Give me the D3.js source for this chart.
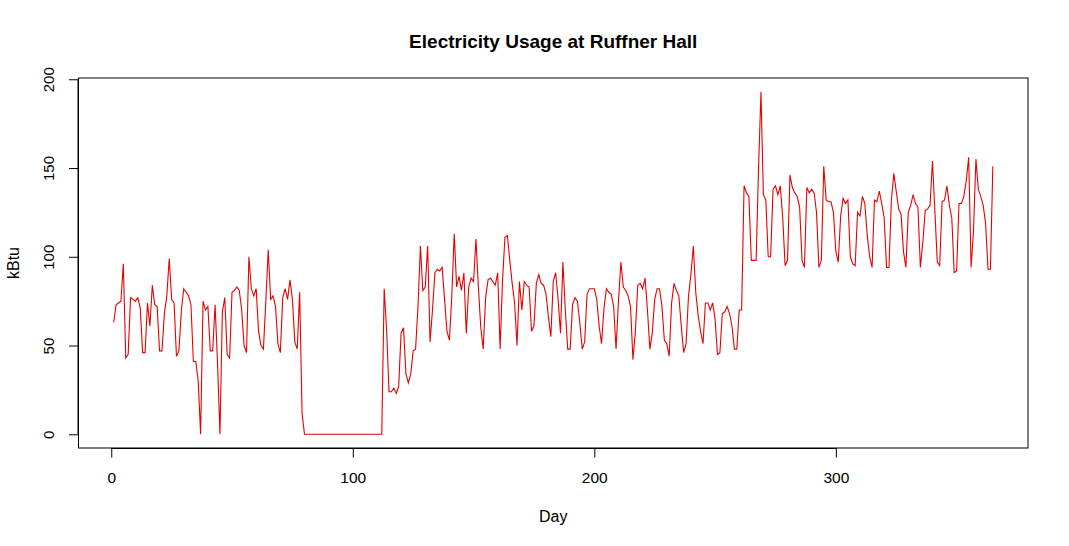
<!DOCTYPE html>
<html>
<head>
<meta charset="utf-8">
<script src="https://cdn.jsdelivr.net/npm/d3@7"></script>
<style>
  html, body { margin: 0; padding: 0; background: #fff; }
  svg { display: block; font-family: "Liberation Sans", Arial, sans-serif; }
</style>
</head>
<body>
<svg id="chart" width="1069" height="546"></svg>
<script>
const title = "Electricity Usage at Ruffner Hall";
const xLabel = "Day";
const yLabel = "kBtu";
const xTicks = [0, 100, 200, 300];
const yTicks = [0, 50, 100, 150, 200];

// daily kBtu, day 1..365
const usage = [
  63,73,74,75,96,43,45,77,76,75,
  77,71,46,46,74,61,84,73,72,47,
  47,68,78,99,76,74,44,47,69,82,
  80,78,73,41,41,30,0,75,70,72,
  47,47,73,40,0,69,77,45,43,80,
  81,83,81,70,50,46,100,82,78,82,
  58,50,48,75,104,76,78,72,51,46,
  77,82,76,87,76,52,48,80,12,0,
  0,0,0,0,0,0,0,0,0,0,
  0,0,0,0,0,0,0,0,0,0,
  0,0,0,0,0,0,0,0,0,0,
  0,0,82,59,24,24,26,23,27,57,
  60,34,29,34,47,48,72,106,81,83,
  106,52,70,91,93,92,94,76,58,53,
  78,113,83,89,81,91,57,83,88,86,
  110,83,60,48,77,87,88,86,84,91,
  48,87,111,112,98,85,74,50,86,70,
  86,84,83,58,61,85,90,85,84,79,
  66,55,86,91,76,57,97,70,48,48,
  73,77,75,63,48,52,79,82,82,82,
  76,61,51,71,82,80,79,72,48,75,
  97,83,81,78,72,42,58,84,85,82,
  88,70,48,57,76,82,82,72,53,51,
  44,74,85,81,78,61,46,51,78,90,
  106,80,67,58,51,74,74,70,74,65,
  45,46,68,69,72,68,61,48,48,70,
  70,140,136,134,98,98,98,150,193,135,
  132,100,100,138,140,135,140,122,95,98,
  146,139,136,134,128,98,94,139,136,138,
  136,125,94,98,151,132,131,131,125,103,
  97,123,133,130,132,100,96,95,125,123,
  134,130,112,100,94,132,131,137,130,122,
  94,94,132,147,137,127,124,103,94,125,
  129,135,130,128,94,108,126,127,129,154,
  126,97,95,131,132,140,129,122,91,92,
  130,130,134,143,156,94,115,155,138,134,
  129,119,93,93,151
];
const days = usage.map((_, i) => i + 1);

const svg = d3.select("#chart");
const pLeft = 78.5, pRight = 1028, pTop = 78, pBottom = 448;

// R-style 4% axis extension
const xMin = d3.min(days), xMax = d3.max(days);
const xPad = (xMax - xMin) * 0.04;
const yMin = d3.min(usage), yMax = d3.max(usage);
const yPad = (yMax - yMin) * 0.04;

const x = d3.scaleLinear().domain([xMin - xPad, xMax + xPad]).range([pLeft, pRight]);
const y = d3.scaleLinear().domain([yMin - yPad, yMax + yPad]).range([pBottom, pTop]);

// plot box
svg.append("rect")
  .attr("x", pLeft).attr("y", pTop)
  .attr("width", pRight - pLeft).attr("height", pBottom - pTop)
  .attr("fill", "none").attr("stroke", "#000").attr("stroke-width", 1);

// line
const line = d3.line().x((d, i) => x(days[i])).y(d => y(d));
svg.append("path")
  .datum(usage)
  .attr("d", line)
  .attr("fill", "none")
  .attr("stroke", "#e80000")
  .attr("stroke-width", 1.1);

const fontFam = "Liberation Sans, Arial, sans-serif";

// x axis
const xAxis = d3.axisBottom(x).tickValues(xTicks).tickSize(9.5).tickPadding(14).tickFormat(d3.format("d"));
const gx = svg.append("g").attr("transform", `translate(0,${pBottom})`).call(xAxis);
gx.select(".domain").attr("d", `M${x(xTicks[0])},0.5H${x(xTicks[xTicks.length-1])}`);
gx.selectAll("text").attr("font-size", 15.5).attr("font-family", fontFam).attr("fill", "#000");

// y axis
const yAxis = d3.axisLeft(y).tickValues(yTicks).tickSize(9.5).tickFormat(d3.format("d"));
const gy = svg.append("g").attr("transform", `translate(${pLeft},0)`).call(yAxis);
gy.select(".domain").attr("d", `M-0.5,${y(yTicks[0])}V${y(yTicks[yTicks.length-1])}`);
gy.selectAll(".tick text")
  .attr("font-size", 15)
  .attr("font-family", fontFam)
  .attr("fill", "#000")
  .attr("text-anchor", "middle")
  .attr("x", 0).attr("y", 0).attr("dy", "0.35em")
  .attr("transform", `translate(${49 - pLeft},0) rotate(-90)`);

// title
svg.append("text")
  .attr("x", (pLeft + pRight) / 2).attr("y", 48)
  .attr("text-anchor", "middle")
  .attr("font-size", 19).attr("font-weight", "bold")
  .text(title);

// x label
svg.append("text")
  .attr("x", (pLeft + pRight) / 2).attr("y", 522)
  .attr("text-anchor", "middle")
  .attr("font-size", 16)
  .text(xLabel);

// y label
svg.append("text")
  .attr("transform", `translate(19,${(pTop + pBottom) / 2}) rotate(-90)`)
  .attr("text-anchor", "middle")
  .attr("font-size", 16)
  .text(yLabel);
</script>
</body>
</html>
